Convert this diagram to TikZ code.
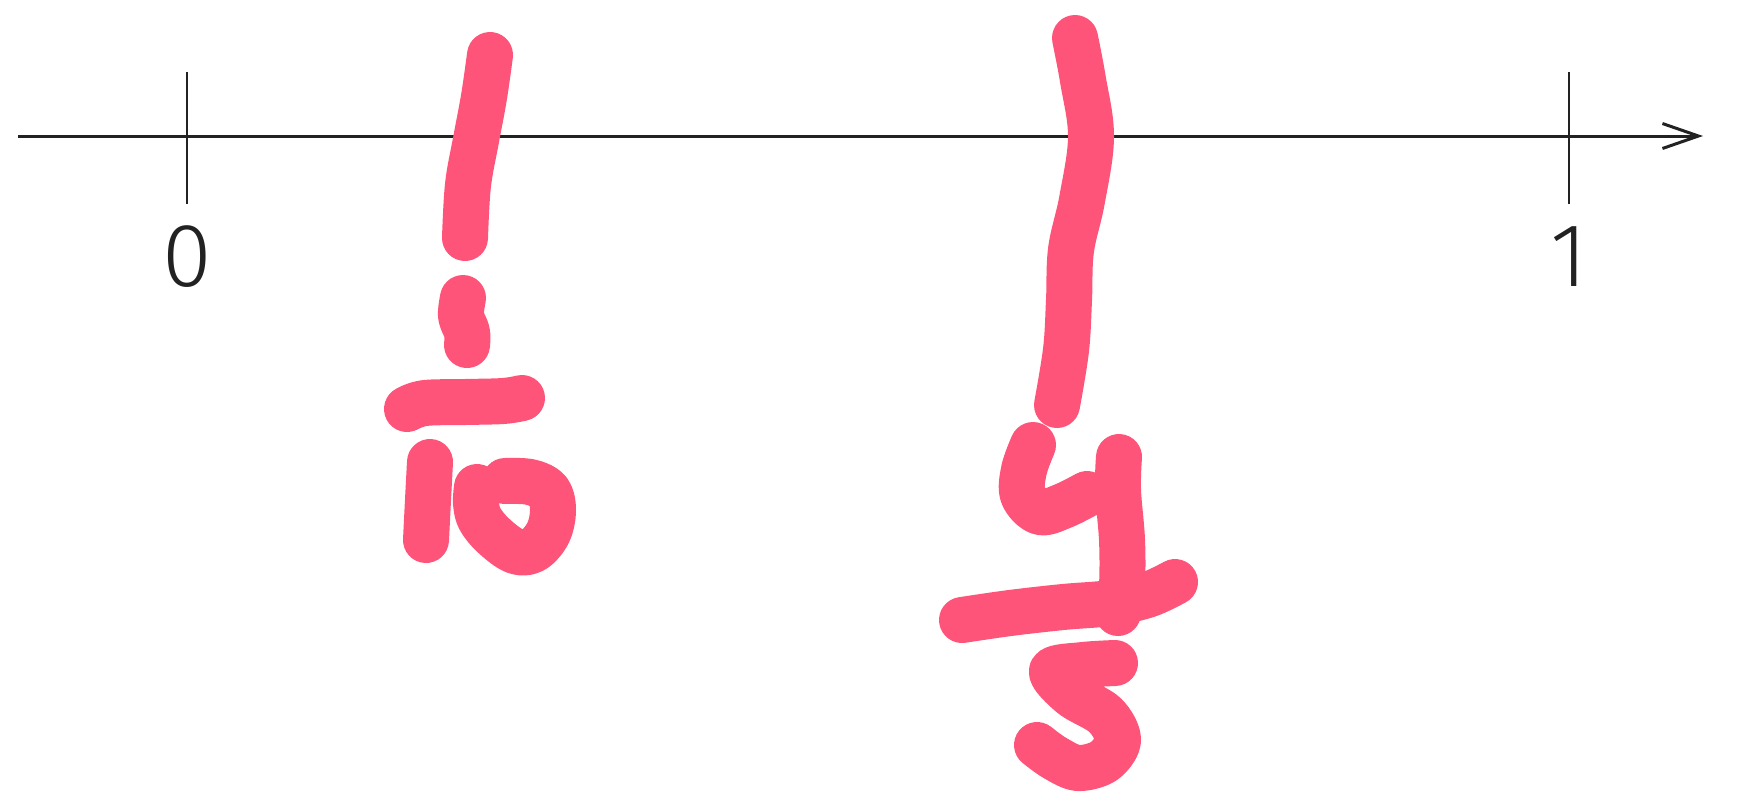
\documentclass[tikz,border=0pt]{standalone}
\usepackage{fontspec}
\newfontfamily\labelfont{Fira Sans Light}
\usetikzlibrary{arrows.meta}
\definecolor{inkpink}{RGB}{255,84,122}
\definecolor{axisgray}{RGB}{34,34,34}
\tikzset{
  axisline/.style={line width=1.5pt, draw=axisgray},
  tickline/.style={line width=1.2pt, draw=axisgray},
  ticklabel/.style={font=\labelfont\fontsize{45}{54}\selectfont, text=axisgray, inner sep=0pt},
  ink/.style={line width=23pt, draw=inkpink, line cap=round, line join=round}
}
\begin{document}
\begin{tikzpicture}[x=0.5pt,y=-0.5pt]
  \useasboundingbox (0,0) rectangle (1739,800);
  % number line
  \coordinate (west) at (18,136);
  \coordinate (east) at (1703,136);
  \draw[axisline,-{Straight Barb[length=18pt,width=12.5pt]}] (west) -- (east);
  \foreach \x/\lab in {187/0, 1569/1} {
    \draw[tickline] (\x,72) -- (\x,204);
    \node[ticklabel] (lab\lab) at (\x,257) {\lab};
  }
  % first mark, 1/10
  \draw[ink] plot[smooth,tension=0.6] coordinates {(490,55) (484,97) (476,140) (468,185) (465,238)};
  \draw[ink] plot[smooth,tension=0.6] coordinates {(463,298) (461,316) (467,332) (467,345)};
  \draw[ink] plot[smooth,tension=0.6] coordinates {(407,409) (425,403) (465,402) (503,401) (522,398)};
  \draw[ink] plot[smooth,tension=0.6] coordinates {(430,462) (428,500) (426,540)};
  \draw[ink] plot[smooth,tension=0.6] coordinates {(505,481) (530,482) (548,491) (553,510) (548,533) (533,550) (515,551) (494,536) (480,519) (476,503) (477,487)};
  % second mark, 4/5
  \draw[ink] plot[smooth,tension=0.6] coordinates {(1075,38) (1083,80) (1091,137) (1082,200) (1071,250) (1069,300) (1066,350) (1057,405)};
  \draw[ink] plot[smooth,tension=0.6] coordinates {(1033,445) (1024,470) (1023,495) (1040,512) (1063,506) (1087,494)};
  \draw[ink] plot[smooth,tension=0.6] coordinates {(1119,457) (1118,490) (1122,540) (1122,585) (1118,613)};
  \draw[ink] plot[smooth,tension=0.6] coordinates {(962,620) (1010,613) (1063,607) (1110,603) (1147,595) (1175,582)};
  \draw[ink] plot[smooth,tension=0.55] coordinates {(1115,663) (1083,665) (1052,671) (1072,695) (1105,715) (1118,740) (1104,761) (1078,768) (1055,758) (1037,745)};
\end{tikzpicture}
\end{document}
